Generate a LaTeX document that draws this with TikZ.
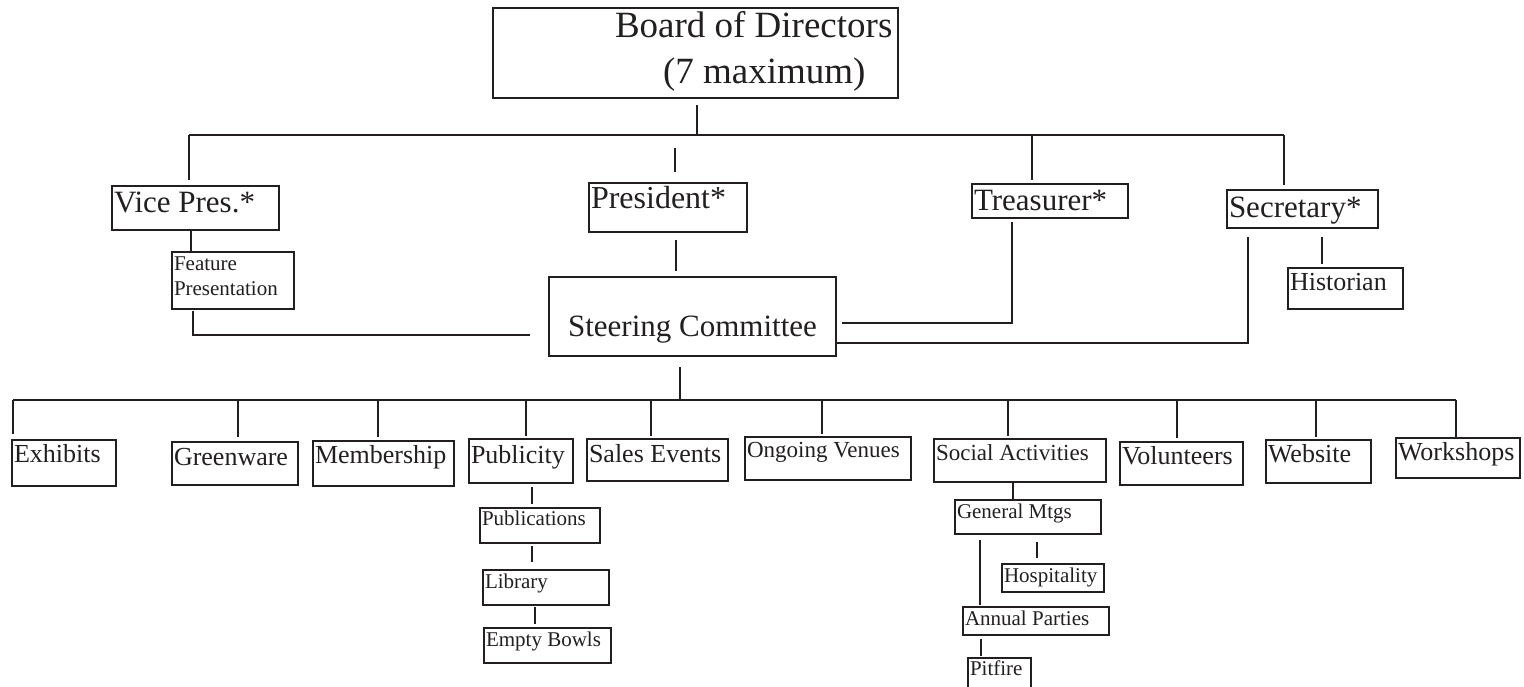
\documentclass[tikz,border=0pt]{standalone}
\usepackage{fontspec}
\setmainfont{Liberation Serif}
\usetikzlibrary{calc}
\definecolor{ink}{RGB}{35,31,32}
\tikzset{
  x=1pt, y=-1pt,
  bx/.style n args={5}{/utils/exec={\pgfmathsetmacro\bxw{#3-#1-4}\pgfmathsetmacro\bxh{#5-#2}\pgfmathsetmacro\bxd{#4-#5}},
    at={(#1,#2)}, anchor=north west, draw=ink, text=ink, line width=2.6pt,
    inner xsep=2pt, inner ysep=0pt, outer sep=0pt, align=flush left,
    text width=\bxw pt, text height=\bxh pt, text depth=\bxd pt},
  fA/.style={font=\fontsize{37}{46}\selectfont},
  fB/.style={font=\fontsize{31}{36}\selectfont},
  fBp/.style={font=\fontsize{32}{36}\selectfont},
  fC/.style={font=\fontsize{26}{30}\selectfont},
  fD/.style={font=\fontsize{23}{27}\selectfont},
  fE/.style={font=\fontsize{21}{25}\selectfont},
  ln/.style={draw=ink, line width=2.6pt},
}
\begin{document}
\begin{tikzpicture}
\useasboundingbox (0,0) rectangle (1524,686);
\clip (0,0) rectangle (1524,686);
\fill[white] (0,0) rectangle (1524,686);

% top level
\node[bx={493}{8}{898}{98}{37}, fA] (board) {\hspace*{120pt}\mbox{Board of Directors}\\\hspace*{168pt}\mbox{(7 maximum)}};
\node[bx={112}{186}{279}{230}{212}, fB] (vp) {Vice Pres.*};
\node[bx={589}{183}{747}{232}{208}, fBp] (pres) {President*};
\node[bx={972}{184}{1128}{218}{210}, fB] (tre) {Treasurer*};
\node[bx={1227}{190}{1378}{228}{217}, fB] (sec) {Secretary*};
\node[bx={172}{252}{294}{309}{270}, fE] (feat) {Feature\\Presentation};
\node[bx={549}{277}{836}{356}{336}, fB, align=flush center] (steer) {Steering Committee};
\node[bx={1288}{268}{1403}{309}{290}, fC] (hist) {Historian};

% committees
\node[bx={12}{440}{116}{486}{462}, fC] (exh) {Exhibits};
\node[bx={172}{442}{298}{485}{465}, fC] (grn) {Greenware};
\node[bx={313}{441}{454}{486}{463}, fC] (mem) {Membership};
\node[bx={469}{439}{573}{483}{463}, fC] (pub) {Publicity};
\node[bx={587}{439}{728}{481}{462}, fC] (sal) {Sales Events};
\node[bx={745}{437}{911}{480}{457}, fD] (ong) {Ongoing Venues};
\node[bx={934}{439}{1106}{482}{460}, fD] (soc) {Social Activities};
\node[bx={1120}{442}{1243}{485}{464}, fC] (vol) {Volunteers};
\node[bx={1266}{440}{1371}{483}{462}, fC] (web) {Website};
\node[bx={1396}{438}{1520}{478}{460}, fC] (wor) {Workshops};

% sub committees
\node[bx={480}{508}{600}{543}{525}, fE] (publ) {Publications};
\node[bx={483}{570}{609}{605}{588}, fE] (lib) {Library};
\node[bx={484}{628}{611}{663}{646}, fE] (eb) {Empty Bowls};
\node[bx={955}{500}{1101}{534}{518}, fE] (gen) {General Mtgs};
\node[bx={1002}{564}{1104}{592}{582}, fE] (hosp) {Hospitality};
\node[bx={963}{607}{1109}{635}{625}, fE] (ann) {Annual Parties};
\node[bx={968}{658}{1031}{700}{675}, fE] (pit) {Pitfire};

% top bus
\coordinate (busL) at (189,135);
\coordinate (busR) at (1284,135);
\draw[ln] ($(board.south)+(1.5,7)$) -- ($(board.south)+(1.5,37)$);
\draw[ln] (busL) -- (busR);
\draw[ln] (busL) -- ($(vp.north)+(-6.5,-6)$);
\draw[ln] ($(tre.north)+(-18,-49)$) -- ($(tre.north)+(-18,-4)$);
\draw[ln] (busR) -- ($(sec.north)+(-18.5,-5)$);
\draw[ln] ($(pres.north)+(7,-35)$) -- ($(pres.north)+(7,-11)$);

% officers to steering committee
\draw[ln] ($(vp.south)+(-4.5,0)$) -- ($(feat.north)+(-42,0)$);
\draw[ln] ($(feat.south)+(-40,2)$) |- ($(steer.west)+(-19,18.5)$);
\draw[ln] ($(pres.south)+(8,8)$) -- ($(steer.north)+(-16.5,-6)$);
\draw[ln] ($(tre.south)+(-38,4)$) |- ($(steer.east)+(6,6.5)$);
\draw[ln] ($(sec.south)+(-54.5,9)$) |- ($(steer.east)+(0,26.5)$);
\draw[ln] ($(sec.south)+(19.5,9)$) -- ($(hist.north)+(-23.5,-4)$);

% lower bus
\coordinate (bus2L) at (13,400);
\coordinate (bus2R) at (1456,400);
\draw[ln] ($(steer.south)+(-12.5,11)$) -- ($(steer.south)+(-12.5,44)$);
\draw[ln] (bus2L) -- (bus2R);
\draw[ln] (bus2L) -- ($(exh.north)+(-51,-6)$);
\draw[ln] ($(grn.north)+(3,-5)$) -- +(0,-37);
\draw[ln] ($(mem.north)+(-5.5,-4)$) -- +(0,-37);
\draw[ln] ($(pub.north)+(5,-3)$) -- +(0,-36);
\draw[ln] ($(sal.north)+(-6.5,-3)$) -- +(0,-36);
\draw[ln] ($(ong.north)+(-6,-3)$) -- +(0,-34);
\draw[ln] ($(soc.north)+(-12,-3)$) -- +(0,-36);
\draw[ln] ($(vol.north)+(-4.5,-4)$) -- +(0,-38);
\draw[ln] ($(web.north)+(-2.5,-3)$) -- +(0,-37);
\draw[ln] (bus2R) -- ($(wor.north)+(-2,-1)$);

% sub connectors
\draw[ln] ($(pub.south)+(11,4)$) -- ($(publ.north)+(-8,-4)$);
\draw[ln] ($(publ.south)+(-8,3)$) -- ($(lib.north)+(-14,-8)$);
\draw[ln] ($(lib.south)+(-11,2)$) -- ($(eb.north)+(-12.5,-4)$);
\draw[ln] ($(soc.south)+(-7,0)$) -- ($(gen.north)+(-15,0)$);
\draw[ln] ($(gen.south)+(-48,6)$) -- ($(ann.north)+(-56,-2)$);
\draw[ln] ($(gen.south)+(9,8)$) -- ($(hosp.north)+(-16,-6)$);
\draw[ln] ($(ann.south)+(-55,4)$) -- ($(pit.north)+(-18.5,-2)$);
\end{tikzpicture}
\end{document}
